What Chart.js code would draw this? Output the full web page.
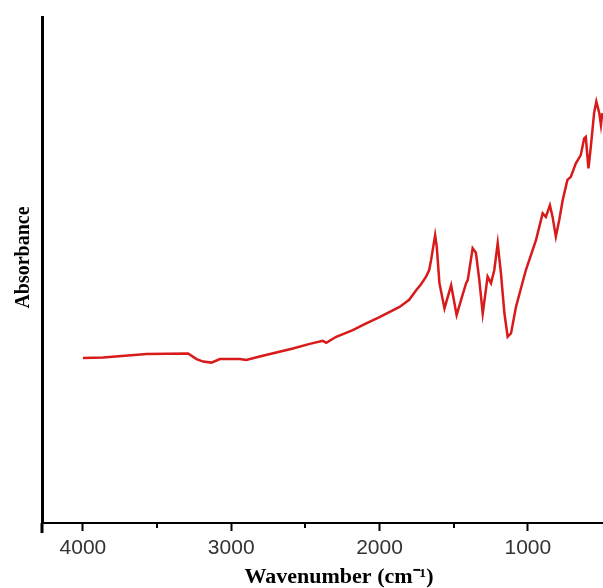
<!DOCTYPE html>
<html lang="en">
<head>
    <meta charset="UTF-8">
    <title>FTIR</title>
    <script src="https://cdn.jsdelivr.net/npm/chart.js"></script>
    <style>
        html, body { margin: 0; padding: 0; background: #fff; }
        #wrap { width: 603px; height: 588px; }
    </style>
</head>
<body>
<div id="wrap"><canvas id="ftirChart"></canvas></div>
<script>
    // wavenumber (cm-1) and absorbance
    const wavenumber = [4000, 3863, 3571, 3291, 3234, 3189, 3133, 3077, 2943, 2898, 2808, 2584, 2471, 2382, 2359, 2292, 2180, 2100,
        2000, 1865, 1800, 1753, 1720, 1686, 1665, 1652, 1625, 1614, 1596, 1562, 1517, 1480, 1450, 1416, 1405, 1372, 1350, 1327, 1304,
        1271, 1248, 1226, 1203, 1181, 1158, 1136, 1113, 1080, 1013, 945, 900, 878, 851, 833, 811, 788, 765, 733, 710,
        676, 643, 620, 609, 598, 591, 575, 553, 538, 518, 507, 498];
    const absorbance = [0.326, 0.327, 0.334, 0.335, 0.324, 0.319, 0.317, 0.324, 0.324, 0.322, 0.329, 0.345, 0.354, 0.360, 0.356, 0.368, 0.381, 0.393,
        0.407, 0.427, 0.441, 0.460, 0.472, 0.487, 0.500, 0.520, 0.569, 0.546, 0.474, 0.424, 0.470, 0.411, 0.441, 0.474, 0.480, 0.543, 0.534, 0.480, 0.414,
        0.487, 0.474, 0.500, 0.553, 0.493, 0.415, 0.368, 0.375, 0.427, 0.500, 0.559, 0.612, 0.605, 0.628, 0.605, 0.566, 0.599, 0.638, 0.678, 0.684,
        0.711, 0.727, 0.760, 0.763, 0.724, 0.701, 0.744, 0.810, 0.833, 0.810, 0.787, 0.810];
    const majorTicks = [4000, 3000, 2000, 1000];
    const minorTicks = [3500, 2500, 1500];

    // short minor ticks and the little stub of the y axis below the x axis
    const axisExtras = {
        id: 'axisExtras',
        afterDraw(chart) {
            const ctx = chart.ctx;
            const x = chart.scales.x;
            const area = chart.chartArea;
            ctx.save();
            ctx.strokeStyle = '#000';
            ctx.lineWidth = 2;
            minorTicks.forEach(function(v) {
                const px = Math.round(x.getPixelForValue(v));
                ctx.beginPath();
                ctx.moveTo(px, area.bottom);
                ctx.lineTo(px, area.bottom + 5);
                ctx.stroke();
            });
            ctx.lineWidth = 3;
            ctx.beginPath();
            ctx.moveTo(area.left, area.bottom);
            ctx.lineTo(area.left, area.bottom + 10);
            ctx.stroke();
            ctx.restore();
        }
    };

    const ctx = document.getElementById('ftirChart').getContext('2d');
    new Chart(ctx, {
        type: 'line',
        data: {
            datasets: [{
                data: wavenumber.map((w, i) => ({ x: w, y: absorbance[i] })),
                borderColor: '#d81a1a',
                borderWidth: 2.5,
                pointRadius: 0,
                tension: 0
            }]
        },
        options: {
            responsive: true,
            maintainAspectRatio: false,
            animation: false,
            layout: { padding: { top: 17, right: 0, left: 0, bottom: 0 } },
            plugins: { legend: { display: false }, tooltip: { enabled: false } },
            scales: {
                x: {
                    type: 'linear',
                    reverse: true,
                    min: 493,
                    max: 4276,
                    afterBuildTicks(scale) {
                        scale.ticks = majorTicks.map(v => ({ value: v }));
                    },
                    afterFit(scale) { scale.height = 65; },
                    grid: { drawOnChartArea: false, tickLength: 8, tickColor: '#000', tickWidth: 2 },
                    border: { display: true, color: '#000', width: 2 },
                    ticks: {
                        color: '#333',
                        padding: 5,
                        maxRotation: 0,
                        callback: v => String(v),
                        font: { family: 'Liberation Sans, Arial, sans-serif', size: 21 }
                    },
                    title: {
                        display: true,
                        text: '      Wavenumber (cm\u207B\u00B9)',
                        color: '#000',
                        padding: { top: 0, bottom: 0 },
                        font: { family: 'Liberation Serif, Times New Roman, serif', size: 22, weight: 'bold', lineHeight: 1 }
                    }
                },
                y: {
                    min: 0,
                    max: 1,
                    afterFit(scale) { scale.width = 42; },
                    grid: { display: false },
                    border: { display: true, color: '#000', width: 3 },
                    ticks: { display: false },
                    title: {
                        display: true,
                        text: '     Absorbance',
                        color: '#000',
                        padding: { top: 12, bottom: 4 },
                        font: { family: 'Liberation Serif, Times New Roman, serif', size: 20, weight: 'bold' }
                    }
                }
            }
        },
        plugins: [axisExtras]
    });
</script>
</body>
</html>
